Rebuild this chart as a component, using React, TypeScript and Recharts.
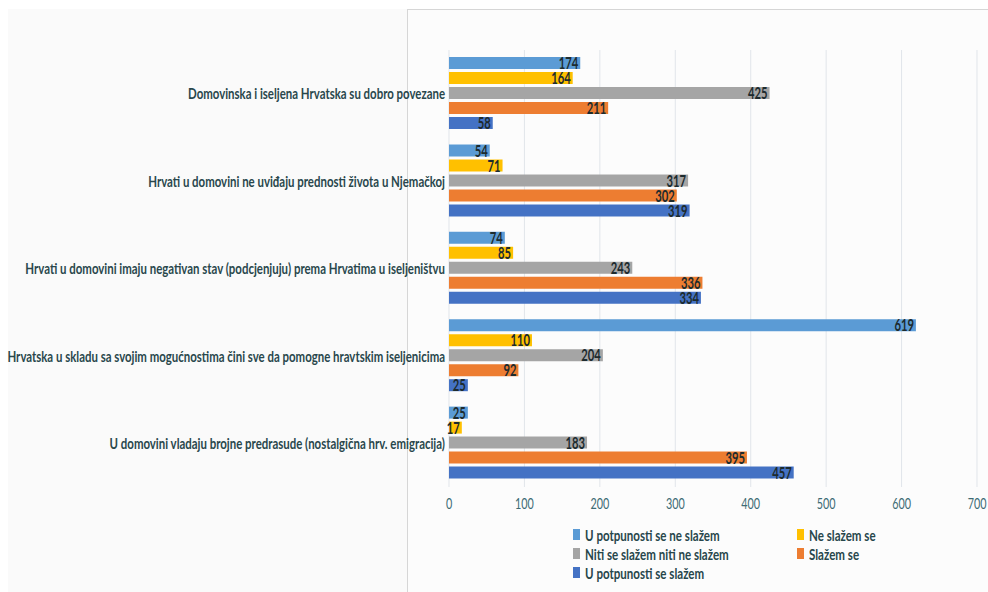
import React from "react";
import {
  Bar,
  BarChart,
  CartesianGrid,
  LabelList,
  Legend,
  XAxis,
  YAxis,
} from "recharts";

const categories = [
  "Domovinska i iseljena Hrvatska su dobro povezane",
  "Hrvati u domovini ne uviđaju prednosti života u Njemačkoj",
  "Hrvati u domovini imaju negativan stav (podcjenjuju) prema Hrvatima u iseljeništvu",
  "Hrvatska u skladu sa svojim mogućnostima čini sve da pomogne hravtskim iseljenicima",
  "U domovini vladaju brojne predrasude (nostalgična hrv. emigracija)",
];

const potpunoNe = [174, 54, 74, 619, 25];
const neSlazem = [164, 71, 85, 110, 17];
const niti = [425, 317, 243, 204, 183];
const slazem = [211, 302, 336, 92, 395];
const potpunoDa = [58, 319, 334, 25, 457];

const xTicks = [0, 100, 200, 300, 400, 500, 600, 700];

const series = [
  { key: "a", name: "U potpunosti se ne slažem", color: "#5b9bd5", values: potpunoNe },
  { key: "b", name: "Ne slažem se", color: "#ffc000", values: neSlazem },
  { key: "c", name: "Niti se slažem niti ne slažem", color: "#a5a5a5", values: niti },
  { key: "d", name: "Slažem se", color: "#ed7d31", values: slazem },
  { key: "e", name: "U potpunosti se slažem", color: "#4472c4", values: potpunoDa },
];

const rows = categories.map((name, i) => {
  const row: Record<string, string | number> = { name };
  series.forEach((s) => (row[s.key] = s.values[i]));
  return row;
});

// the original text is squeezed horizontally
const SQUEEZE = 0.72;
const FONT = "Lato, 'Open Sans', sans-serif";

const CategoryTick = ({ x, y, payload }: any) => (
  <text
    transform={`translate(${x},${y}) scale(0.715,1)`}
    textAnchor="end"
    dy="0.35em"
    fontFamily={FONT}
    fontWeight={700}
    fontSize={16}
    fill="#29474c"
  >
    {payload.value}
  </text>
);

const ValueTick = ({ x, y, payload }: any) => (
  <text
    transform={`translate(${x},${y + 14}) scale(${SQUEEZE},1)`}
    textAnchor="middle"
    fontFamily={FONT}
    fontSize={15}
    fill="#3d6b74"
  >
    {payload.value}
  </text>
);

const BarValue = ({ x, y, width, height, value }: any) => (
  <text
    transform={`translate(${x + width - 2},${y + height / 2}) scale(0.66,1)`}
    textAnchor="end"
    dy="0.36em"
    fontFamily={FONT}
    fontWeight={700}
    fontSize={17}
    fill="#1d2b2e"
  >
    {value}
  </text>
);

const LegendBox = () => (
  <div
    style={{
      display: "grid",
      gridTemplateColumns: "224px 140px",
      rowGap: 2,
      fontFamily: FONT,
      fontWeight: 700,
      fontSize: 15,
      color: "#27464b",
    }}
  >
    {series.map((s) => (
      <div key={s.key} style={{ display: "flex", alignItems: "center", height: 17 }}>
        <span style={{ width: 7, height: 11, background: s.color, marginRight: 5 }} />
        <span style={{ display: "inline-block", transform: "scaleX(0.77)", transformOrigin: "left center", whiteSpace: "nowrap" }}>
          {s.name}
        </span>
      </div>
    ))}
  </div>
);

export default function App() {
  return (
    <div style={{ position: "absolute", left: 0, top: 0, width: 988, height: 592, background: "#fff" }}>
      <div style={{ position: "absolute", left: 8, top: 9, right: 0, bottom: 0, background: "#fafafa" }} />
      <div
        style={{
          position: "absolute",
          left: 407,
          top: 9,
          right: 0,
          bottom: 0,
          borderLeft: "1px solid #d6d6d6",
          borderTop: "1px solid #d6d6d6",
          background: "#fcfcfc",
        }}
      />
      <div style={{ position: "absolute", left: 0, top: 0 }}>
        <BarChart
          layout="vertical"
          width={988}
          height={592}
          data={rows}
          margin={{ top: 50, right: 11, bottom: 75, left: 0 }}
          barCategoryGap={7}
          barGap={3}
        >
          <CartesianGrid horizontal={false} stroke="#e1e5ea" />
          <XAxis
            type="number"
            domain={[0, 700]}
            ticks={xTicks}
            axisLine={false}
            tickLine={false}
            tick={<ValueTick />}
            interval={0}
          />
          <YAxis
            type="category"
            dataKey="name"
            width={449}
            axisLine={false}
            tickLine={false}
            tickSize={4}
            tickMargin={0}
            tick={<CategoryTick />}
            interval={0}
          />
          <Legend
            layout="horizontal"
            verticalAlign="middle"
            align="center"
            content={<LegendBox />}
            wrapperStyle={{ left: 573, top: 526, width: 380, height: 60 }}
          />
          {series.map((s) => (
            <Bar key={s.key} dataKey={s.key} name={s.name} fill={s.color} isAnimationActive={false}>
              <LabelList dataKey={s.key} content={<BarValue />} />
            </Bar>
          ))}
        </BarChart>
      </div>
    </div>
  );
}
